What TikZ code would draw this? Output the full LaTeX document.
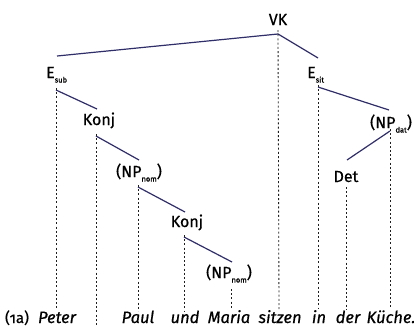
\documentclass[tikz,border=0pt]{standalone}
\usepackage{fontspec}
\setmainfont{Fira Sans}[FakeBold=0.6]
\definecolor{treeblue}{RGB}{48,46,104}
\definecolor{dashgray}{RGB}{30,30,30}
\newcommand{\sbs}[1]{\raisebox{-4.5pt}{\fontsize{7.5}{8}\selectfont #1}}
\begin{document}
\begin{tikzpicture}[x=1pt,y=-1pt,
  tree/.style={draw=treeblue,line width=1.2pt},
  proj/.style={draw=dashgray,line width=0.85pt,dash pattern=on 2pt off 2.2pt},
  lab/.style={anchor=base,inner sep=0pt,font=\fontsize{16}{18}\selectfont},
  word/.style={anchor=base,inner sep=0pt,font=\fontsize{16.5}{18}\selectfont\itshape}]
\useasboundingbox[fill=white] (0,0) rectangle (414,327);
% labels
\node[lab] (VK) at (278,25) {VK};
\node[lab,anchor=base west] (Esub) at (46,78) {E\sbs{sub}};
\node[lab,anchor=base west] (Esit) at (307,78) {E\sbs{sit}};
\node[lab] (Konj1) at (99,125) {Konj};
\node[lab] (NPnom1) at (139,177) {(NP\sbs{nom})};
\node[lab] (Konj2) at (187,227) {Konj};
\node[lab] (NPnom2) at (229,278) {(NP\sbs{nom})};
\node[lab] (NPdat) at (391,128) {(NP\sbs{dat})};
\node[lab] (Det) at (346,182) {Det};
% words
\node[word,font=\fontsize{15}{16}\selectfont\addfontfeatures{Numbers=OldStyle}] (ex) at (17,323) {(1a)};
\node[word] (w1) at (57,323) {Peter};
\node[word] (w2) at (138,323) {Paul};
\node[word] (w3) at (185,323) {und};
\node[word] (w4) at (229,323) {Maria};
\node[word] (w5) at (280,323) {sitzen};
\node[word] (w6) at (319,323) {in};
\node[word] (w7) at (348,323) {der};
\node[word] (w8) at (391,323) {Küche.};
% joints
\coordinate (VKb) at (278,34);
\coordinate (EsubT) at (57,56);
\coordinate (EsubB) at (56,90);
\coordinate (EsitT) at (318,58);
\coordinate (EsitB) at (318,87);
\coordinate (K1T) at (97,109);
\coordinate (K1B) at (96,136);
\coordinate (N1T) at (139,160);
\coordinate (N1B) at (138,187);
\coordinate (K2T) at (185,212);
\coordinate (K2B) at (184,237);
\coordinate (N2T) at (232,262);
\coordinate (N2B) at (231,290);
\coordinate (NdT) at (389,110);
\coordinate (NdB) at (390,131);
\coordinate (DetT) at (347,160);
\coordinate (DetB) at (346,188);
% dashed ends
\coordinate (eVK) at (279,309);
\coordinate (eEsub) at (56,309);
\coordinate (eK1) at (96,325);
\coordinate (eN1) at (138,311);
\coordinate (eK2) at (184,311);
\coordinate (eN2) at (231,309);
\coordinate (eEsit) at (318,309);
\coordinate (eNd) at (390,309);
\coordinate (eDet) at (346,309);
% tree lines
\draw[tree] (EsubT) -- (VKb) -- (EsitT);
\draw[tree] (EsubB) -- (K1T);
\draw[tree] (K1B) -- (N1T);
\draw[tree] (N1B) -- (K2T);
\draw[tree] (K2B) -- (N2T);
\draw[tree] (EsitB) -- (NdT);
\draw[tree] (NdB) -- (DetT);
% projection lines
\draw[proj] ([yshift=4pt]VKb) -- (eVK);
\draw[proj] ([yshift=2pt]EsubB) -- (eEsub);
\draw[proj] ([yshift=2pt]K1B) -- (eK1);
\draw[proj] ([yshift=2pt]N1B) -- (eN1);
\draw[proj] ([yshift=2pt]K2B) -- (eK2);
\draw[proj] ([yshift=1pt]N2B) -- (eN2);
\draw[proj] ([yshift=2pt]EsitB) -- (eEsit);
\draw[proj] ([yshift=2pt]NdB) -- (eNd);
\draw[proj] ([yshift=1pt]DetB) -- (eDet);
\end{tikzpicture}
\end{document}
